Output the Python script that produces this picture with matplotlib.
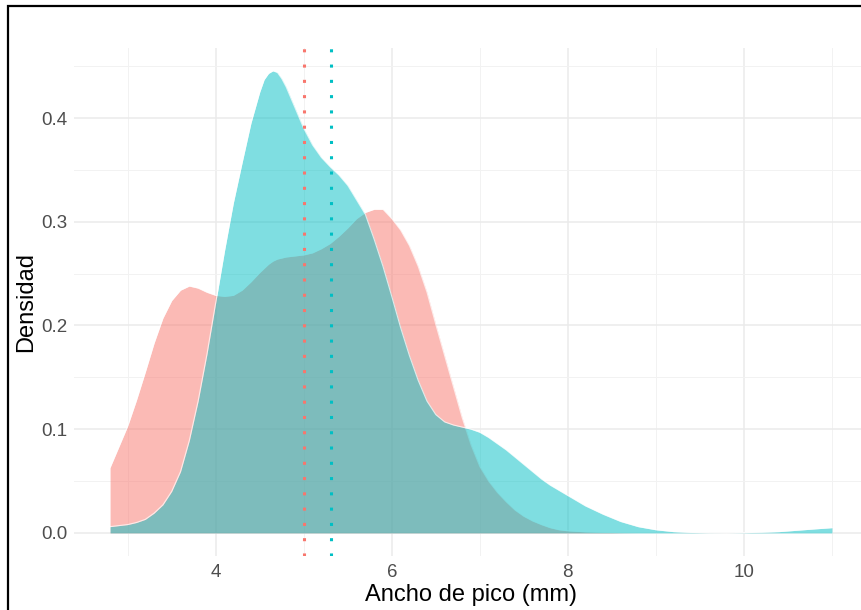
import matplotlib.pyplot as plt
from matplotlib.patches import Rectangle
from matplotlib.ticker import MultipleLocator

x_vals = [2.8, 2.9, 3.0, 3.1, 3.2, 3.3, 3.4, 3.5, 3.6, 3.7, 3.8, 3.9,
          4.0, 4.1, 4.2, 4.3, 4.4, 4.5, 4.55, 4.6, 4.65, 4.7, 4.75, 4.8, 4.9,
          5.0, 5.1, 5.2, 5.3, 5.4, 5.5, 5.6, 5.7, 5.8, 5.9,
          6.0, 6.1, 6.2, 6.3, 6.4, 6.5, 6.6, 6.7, 6.8, 6.9,
          7.0, 7.1, 7.2, 7.3, 7.4, 7.5, 7.6, 7.7, 7.8, 7.9,
          8.0, 8.1, 8.2, 8.4, 8.6, 8.8, 9.0, 9.2, 9.4, 9.6, 9.8,
          10.0, 10.2, 10.4, 10.6, 10.8, 11.0]

dens_rojo = [0.063, 0.083, 0.103, 0.128, 0.155, 0.183, 0.207, 0.224, 0.234, 0.238, 0.236, 0.232,
             0.229, 0.228, 0.229, 0.234, 0.242, 0.251, 0.255, 0.259, 0.262, 0.264, 0.265, 0.266, 0.267,
             0.268, 0.270, 0.274, 0.279, 0.286, 0.294, 0.303, 0.309, 0.312, 0.312,
             0.303, 0.292, 0.277, 0.257, 0.232, 0.201, 0.171, 0.141, 0.111, 0.085,
             0.064, 0.050, 0.039, 0.030, 0.022, 0.016, 0.0115, 0.008, 0.005, 0.003,
             0.002, 0.0015, 0.001, 0.0005, 0.0002, 0.0, 0.0, 0.0, 0.0, 0.0, 0.0,
             0.0, 0.0, 0.0, 0.0, 0.0, 0.0]

dens_cian = [0.006, 0.007, 0.008, 0.010, 0.013, 0.019, 0.027, 0.040, 0.059, 0.089, 0.127, 0.172,
             0.222, 0.272, 0.318, 0.357, 0.395, 0.425, 0.437, 0.443, 0.4455, 0.444, 0.438, 0.430, 0.410,
             0.390, 0.374, 0.362, 0.353, 0.345, 0.335, 0.321, 0.307, 0.283, 0.257,
             0.228, 0.198, 0.171, 0.147, 0.127, 0.114, 0.107, 0.104, 0.102, 0.100,
             0.097, 0.092, 0.086, 0.080, 0.073, 0.066, 0.059, 0.052, 0.046, 0.041,
             0.036, 0.031, 0.026, 0.018, 0.011, 0.006, 0.003, 0.0012, 0.0004, 0.0001, 0.0,
             0.0002, 0.0006, 0.0012, 0.0025, 0.0038, 0.005]

medias = [5.0, 5.31]
colores = ['#F8766D', '#00BFC4']

plt.rcParams['font.family'] = ['Liberation Sans', 'DejaVu Sans']

fig = plt.figure(figsize=(8.62, 6.10), dpi=100)
ax = fig.add_axes([74 / 862, 1 - 556 / 610, (868 - 74) / 862, (556 - 48) / 610])

for dens, col in zip([dens_rojo, dens_cian], colores):
    ax.fill_between(x_vals, 0, dens, color=col, alpha=0.5, lw=0, zorder=2)
    ax.plot(x_vals, dens, color='white', lw=0.8, alpha=0.7, zorder=2,
            solid_joinstyle='round')

for m, col in zip(medias, colores):
    ax.axvline(m, color=col, lw=2.2, linestyle=(0, (1, 4)), zorder=3)

ax.set_xlim(2.39, 11.41)
ax.set_ylim(-0.0223, 0.4675)
ax.xaxis.set_minor_locator(MultipleLocator(1))
ax.yaxis.set_minor_locator(MultipleLocator(0.05))
ax.set_xticks([4, 6, 8, 10])
ax.set_xticklabels(['4', '6', '8', '10'])
ax.set_yticks([0.0, 0.1, 0.2, 0.3, 0.4])
ax.set_yticklabels(['0.0', '0.1', '0.2', '0.3', '0.4'])

ax.grid(True, which='major', color='#EBEBEB', lw=1.1, zorder=0)
ax.grid(True, which='minor', color='#F2F2F2', lw=0.7, zorder=0)
ax.set_axisbelow(True)
for s in ax.spines.values():
    s.set_visible(False)
ax.tick_params(which='both', length=0, labelsize=13.5, labelcolor='#4D4D4D')
ax.tick_params(axis='x', pad=6)
ax.tick_params(axis='y', pad=5)

ax.set_xlabel('Ancho de pico (mm)', fontsize=17, labelpad=2)
ax.set_ylabel('Densidad', fontsize=17)
ax.yaxis.set_label_coords(-0.046, 0.5)

# marco negro de la imagen
fig.patches.append(Rectangle((8 / 862, -0.1), 1.2, 1.1 - 6 / 610, transform=fig.transFigure,
                             fill=False, edgecolor='black', lw=1.6, zorder=10))

fig.savefig('out.png', dpi=100)
